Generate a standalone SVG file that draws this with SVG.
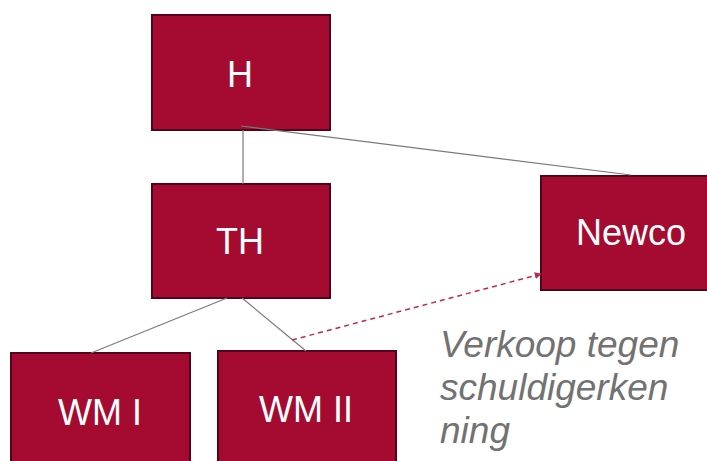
<svg xmlns="http://www.w3.org/2000/svg" width="707" height="461" viewBox="0 0 707 461">
<style>
.box{fill:#A50B30;stroke:#55001A;stroke-width:2}
.lbl{font-family:"Liberation Sans",Arial,sans-serif;font-size:36px;fill:#ffffff;text-anchor:middle}
.conn{stroke:#7a7a7a;stroke-width:1.2;fill:none}
.dash{stroke:#C0284A;stroke-width:1.5;stroke-dasharray:5,4;fill:none}
.note{font-family:"Liberation Sans",Arial,sans-serif;font-size:37px;font-style:italic;fill:#727272}
</style>
<defs>
<marker id="ah" viewBox="0 0 10 10" refX="9" refY="5" markerWidth="7" markerHeight="7" orient="auto" markerUnits="userSpaceOnUse">
<path d="M0,0 L10,5 L0,10 z" fill="#C0284A"/>
</marker>
</defs>
<g id="node-H"><rect class="box" x="152" y="15" width="178" height="115"/><text class="lbl" x="240" y="87">H</text></g>
<g id="node-TH"><rect class="box" x="152" y="184" width="178" height="114"/><text class="lbl" x="240" y="254">TH</text></g>
<g id="node-Newco"><rect class="box" x="541" y="176" width="175" height="114"/><text class="lbl" x="631" y="245">Newco</text></g>
<g id="node-WMI"><rect class="box" x="11" y="353" width="179" height="120"/><text class="lbl" x="100" y="425">WM I</text></g>
<g id="node-WMII"><rect class="box" x="218" y="351" width="178" height="120"/><text class="lbl" x="306" y="422">WM II</text></g>
<g id="connectors">
<line class="conn" x1="243" y1="130" x2="243" y2="184"/>
<line class="conn" x1="241" y1="126" x2="631" y2="175"/>
<line class="conn" x1="227" y1="298" x2="91" y2="353"/>
<line class="conn" x1="242" y1="298" x2="306" y2="351"/>
<line class="dash" x1="292" y1="340" x2="541" y2="274" marker-end="url(#ah)"/>
</g>
<g id="note">
<text class="note" x="440" y="357">Verkoop tegen</text>
<text class="note" x="440" y="400">schuldigerken</text>
<text class="note" x="440" y="443">ning</text>
</g>
</svg>
